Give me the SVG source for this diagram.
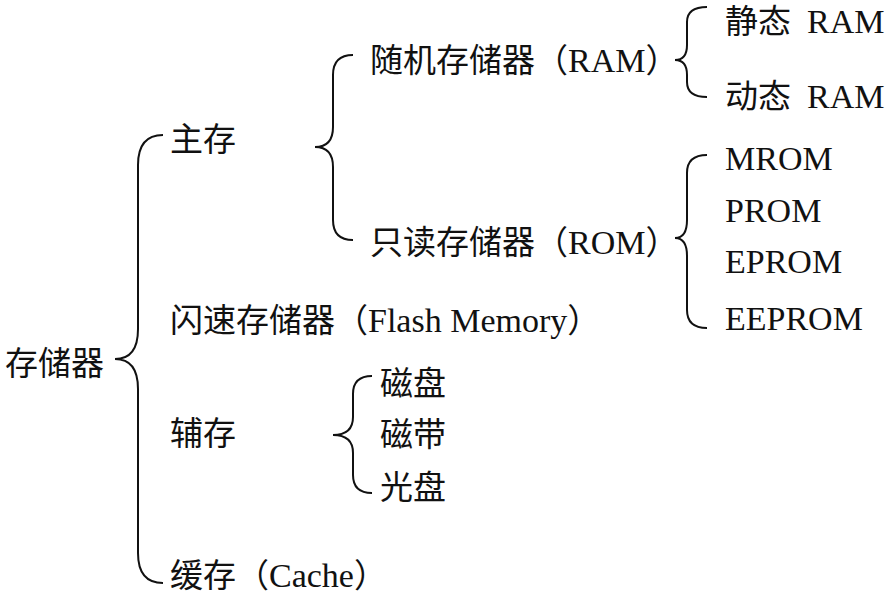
<svg xmlns="http://www.w3.org/2000/svg" width="893" height="601" viewBox="0 0 893 601">
<style>
text{font-family:"Liberation Serif","Noto Sans CJK SC",serif;font-size:33px;fill:#111}
.l{font-size:34px}
.br{fill:none;stroke:#111;stroke-width:2}
</style>
<rect width="893" height="601" fill="#fff"/>
<g id="connectors">
<path class="br" d="M163 135 Q138 135 138 165 L138 329 Q138 359 115 359 Q138 359 138 389 L138 553 Q138 583 163 583"/>
<path class="br" d="M353 55 Q333 55 333 75 L333 127 Q333 147 315 147 Q333 147 333 167 L333 220 Q333 240 353 240"/>
<path class="br" d="M707 7 Q687 7 687 22 L687 45 Q687 60 675 60 Q687 60 687 75 L687 82 Q687 97 707 97"/>
<path class="br" d="M707 155 Q687 155 687 173 L687 220 Q687 238 675 238 Q687 238 687 256 L687 310 Q687 328 707 328"/>
<path class="br" d="M372 376 Q353 376 353 394 L353 417 Q353 435 333 435 Q353 435 353 453 L353 475 Q353 493 372 493"/>
</g>
<g id="root"><text x="5" y="375">存储器</text></g>
<g id="main"><text x="170" y="151">主存</text></g>
<g id="flash"><text x="170" y="332">闪速存储器（<tspan class="l">Flash Memory</tspan>）</text></g>
<g id="aux"><text x="170" y="445">辅存</text></g>
<g id="cache"><text x="170" y="587">缓存（<tspan class="l">Cache</tspan>）</text></g>
<g id="ram"><text x="370" y="72">随机存储器（<tspan class="l">RAM</tspan>）</text></g>
<g id="rom"><text x="370" y="254">只读存储器（<tspan class="l">ROM</tspan>）</text></g>
<g id="sram"><text x="725" y="33">静态<tspan class="l" x="807">RAM</tspan></text></g>
<g id="dram"><text x="725" y="108">动态<tspan class="l" x="807">RAM</tspan></text></g>
<g id="mrom"><text class="l" x="725" y="170">MROM</text></g>
<g id="prom"><text class="l" x="725" y="222">PROM</text></g>
<g id="eprom"><text class="l" x="725" y="273">EPROM</text></g>
<g id="eeprom"><text class="l" x="725" y="330">EEPROM</text></g>
<g id="disk"><text x="380" y="395">磁盘</text></g>
<g id="tape"><text x="380" y="446">磁带</text></g>
<g id="optical"><text x="380" y="499">光盘</text></g>
</svg>
